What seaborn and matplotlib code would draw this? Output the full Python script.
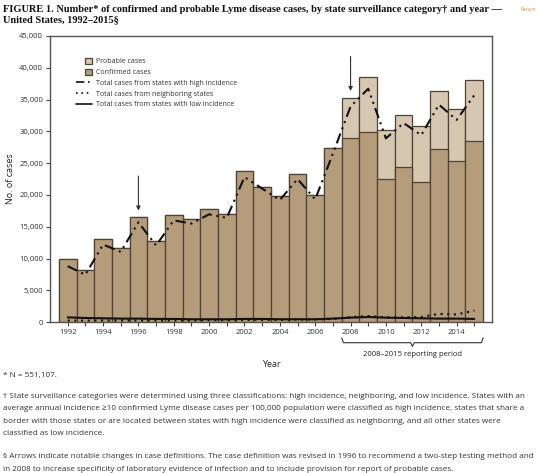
import numpy as np
import pandas as pd
import seaborn as sns
import matplotlib.pyplot as plt

years = list(range(1992, 2016))
confirmed = [9909, 8257, 13043, 11700, 16455, 12801, 16801, 16273, 17730, 17029,
             23763, 21273, 19804, 23305, 19931, 27444, 28921, 29959, 22561, 24364,
             22014, 27203, 25359, 28453]
probable = [0] * 16 + [6277, 8509, 7597, 8188, 8817, 9104, 8102, 9616]
high_inc = [8800, 7450, 12200, 11050, 15700, 12050, 16000, 15500, 16950, 16400,
            22800, 21000, 19200, 22500, 19300, 26500, 33900, 36700, 28900, 31300,
            29400, 34200, 31800, 35700]
neighboring = [250, 250, 250, 250, 250, 250, 250, 250, 300, 300, 350, 350, 350,
               400, 400, 500, 800, 950, 750, 750, 800, 1300, 1200, 1800]
low_inc = [750, 650, 600, 550, 550, 500, 500, 450, 450, 450, 500, 500, 450, 450,
           450, 550, 700, 800, 700, 650, 600, 550, 550, 500]
arrow_years = [1996, 2008]

df = pd.DataFrame({"Year": years, "Confirmed": confirmed, "Probable": probable,
                   "High": high_inc, "Neighboring": neighboring, "Low": low_inc})
df["Total"] = df["Confirmed"] + df["Probable"]

sns.set_style("white")
plt.rcParams["font.family"] = ["Open Sans", "DejaVu Sans"]

fig = plt.figure(figsize=(5.4, 4.73), dpi=100)
ax = fig.add_axes([0.0926, 0.319, 0.8185, 0.605])

conf_col = "#b59c7a"
prob_col = "#d6c7b0"
edge_col = "#4d4437"

sns.barplot(data=df, x="Year", y="Total", native_scale=True, width=1,
            color=prob_col, edgecolor=edge_col, linewidth=0.9, saturation=1,
            ax=ax, label="Probable cases")
sns.barplot(data=df, x="Year", y="Confirmed", native_scale=True, width=1,
            color=conf_col, edgecolor=edge_col, linewidth=0.9, saturation=1,
            ax=ax, label="Confirmed cases")

sns.lineplot(data=df, x="Year", y="High", color="#111111", lw=1.5,
             linestyle=(0, (5, 2.2, 1, 2.2, 1, 2.2)), ax=ax,
             label="Total cases from states with high incidence")
sns.lineplot(data=df, x="Year", y="Neighboring", color="#111111", lw=1.5,
             linestyle=(0, (1, 2.2)), ax=ax,
             label="Total cases from neighboring states")
sns.lineplot(data=df, x="Year", y="Low", color="#111111", lw=1.5, ax=ax,
             label="Total cases from states with low incidence")

# arrows marking case definition changes
ax.annotate("", xy=(arrow_years[0], 17100), xytext=(arrow_years[0], 23400),
            arrowprops=dict(arrowstyle="-|>", color="#333333", lw=0.8,
                            mutation_scale=6))
ax.annotate("", xy=(arrow_years[1], 35900), xytext=(arrow_years[1], 42200),
            arrowprops=dict(arrowstyle="-|>", color="#333333", lw=0.8,
                            mutation_scale=6))

ax.set_xlim(1991, 2016)
ax.set_ylim(0, 45000)
ax.set_yticks(np.arange(0, 45001, 5000))
ax.set_yticklabels([f"{v:,}" for v in range(0, 45001, 5000)])
ax.set_xticks(years)
ax.set_xticklabels([str(y) if y % 2 == 0 else "" for y in years])
ax.tick_params(axis="both", labelsize=5.5, labelcolor="#333333", length=3,
               width=0.8, color="#444444", direction="out", pad=2)
ax.tick_params(axis="x", bottom=True)
ax.tick_params(axis="y", left=True)
for s in ax.spines.values():
    s.set_color("#555555")
    s.set_linewidth(1.0)

ax.set_xlabel("Year", fontsize=6.5, color="#222222", labelpad=17)
ax.set_ylabel("No. of cases", fontsize=6.5, color="#222222", labelpad=3)

# bracket for reporting period
tr = ax.get_xaxis_transform()
bx = [2007.5, 2007.6, 2011.4, 2011.5, 2011.6, 2015.4, 2015.5]
by = [-0.055, -0.072, -0.072, -0.085, -0.072, -0.072, -0.055]
ax.plot(bx, by, transform=tr, color="#333333", lw=0.8, clip_on=False)
ax.text(2011.5, -0.1, "2008\u20132015 reporting period", transform=tr,
        ha="center", va="top", fontsize=5.5, color="#222222")

handles, labels = ax.get_legend_handles_labels()
order = [labels.index("Probable cases"), labels.index("Confirmed cases"),
         labels.index("Total cases from states with high incidence"),
         labels.index("Total cases from neighboring states"),
         labels.index("Total cases from states with low incidence")]
leg = ax.legend([handles[i] for i in order], [labels[i] for i in order],
                loc="upper left", bbox_to_anchor=(0.05, 0.935), frameon=False,
                fontsize=5.0, handlelength=2.4, handleheight=0.9,
                handletextpad=0.5, labelspacing=0.5, borderpad=0)
for t in leg.get_texts():
    t.set_color("#333333")
for p in leg.get_patches():
    p.set_x(6.5)
    p.set_width(5)
for ln in leg.get_lines():
    ln.set_linewidth(1.2)

fig.text(0.006, 0.99,
         "FIGURE 1. Number* of confirmed and probable Lyme disease cases, by state surveillance category\u2020 and year \u2014\nUnited States, 1992\u20132015\u00a7",
         ha="left", va="top", fontsize=7.5, family=["Liberation Serif", "DejaVu Serif"],
         weight="bold", color="#111111", linespacing=1.25)
fig.text(0.992, 0.985, "Return", ha="right", va="top", fontsize=3.5, color="#d08a2a")

foot_kw = dict(ha="left", va="top", fontsize=5.9, color="#333333", linespacing=2.1)
fig.text(0.006, 0.213, "* N = 551,107.", **foot_kw)
fig.text(0.006, 0.170,
         "\u2020 State surveillance categories were determined using three classifications: high incidence, neighboring, and low incidence. States with an\n"
         "average annual incidence \u226510 confirmed Lyme disease cases per 100,000 population were classified as high incidence, states that share a\n"
         "border with those states or are located between states with high incidence were classified as neighboring, and all other states were\n"
         "classified as low incidence.", **foot_kw)
fig.text(0.006, 0.042,
         "\u00a7 Arrows indicate notable changes in case definitions. The case definition was revised in 1996 to recommend a two-step testing method and\n"
         "in 2008 to increase specificity of laboratory evidence of infection and to include provision for report of probable cases.", **foot_kw)

fig.savefig("out.png", dpi=100)
